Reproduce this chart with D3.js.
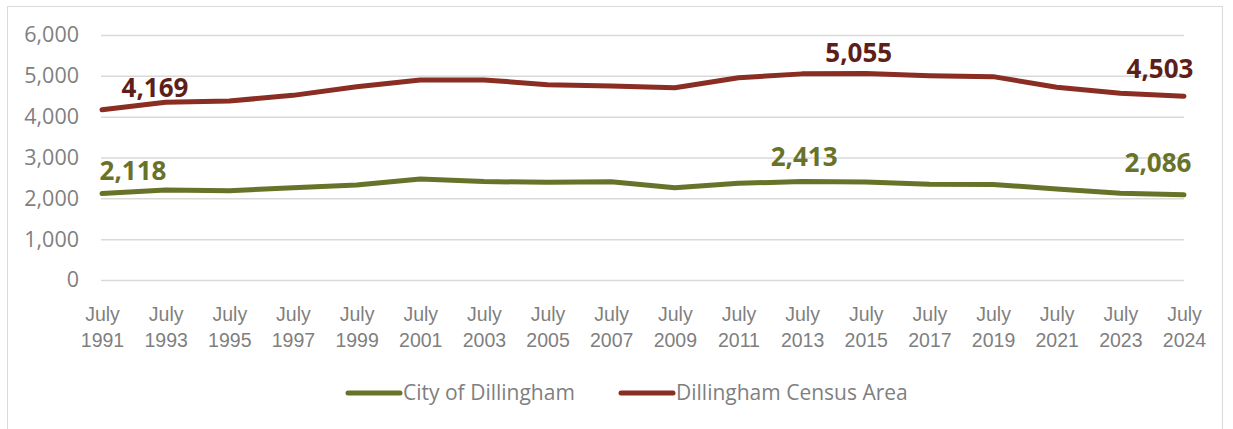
<!DOCTYPE html>
<html>
<head>
<meta charset="utf-8">
<script src="https://cdn.jsdelivr.net/npm/d3@7"></script>
<style>
  body { margin: 0; background: #fff; }
  svg { display: block; font-family: "Open Sans", sans-serif; }
</style>
</head>
<body>
<div class="chart"></div>
<script>
const years = ["1991", "1993", "1995", "1997", "1999", "2001", "2003", "2005", "2007",
    "2009", "2011", "2013", "2015", "2017", "2019", "2021", "2023", "2024"];
const cityValues = [2118, 2204, 2188, 2261, 2327, 2474, 2410, 2392, 2408,
    2261, 2367, 2413, 2400, 2345, 2340, 2230, 2122, 2086];
const areaValues = [4169, 4353, 4384, 4522, 4735, 4898, 4900, 4784, 4750,
    4710, 4955, 5048, 5055, 5005, 4980, 4720, 4572, 4503];
const yTicks = [0, 1000, 2000, 3000, 4000, 5000, 6000];
const seriesNames = ["City of Dillingham", "Dillingham Census Area"];
const cityLabelIdx = [0, 11, 17];
const areaLabelIdx = [0, 12, 17];

const W = 1233, H = 429;
const margin = ({ left: 102, right: 49, top: 35, bottom: 149 });

const svg = d3.select(".chart").append("svg")
    .attr("width", W)
    .attr("height", H)

svg.append("rect")
    .attr("x", 7.5).attr("y", 6.5)
    .attr("width", 1215).attr("height", 440)
    .attr("fill", "none")
    .attr("stroke", "#d9d9d9")

const x = d3.scalePoint()
    .domain(years)
    .range([margin.left, W - margin.right])

const y = d3.scaleLinear()
    .domain([0, 6000])
    .range([H - margin.bottom, margin.top])

// gridlines + y labels
const yAxis = d3.axisLeft(y)
    .tickValues(yTicks)
    .tickSize(-(W - margin.right - margin.left + 1))
    .tickPadding(22)
    .tickFormat(d3.format(","))

svg.append("g")
    .attr("transform", `translate(${margin.left - 1},0)`)
    .call(yAxis)
    .call(g => g.select(".domain").remove())
    .call(g => g.selectAll(".tick line").attr("stroke", "#d9d9d9").attr("stroke-width", 1.5))
    .call(g => g.selectAll(".tick text")
        .attr("fill", "#7f7f7f")
        .attr("font-size", 21.5)
        .attr("font-family", "Open Sans"))

// x labels, two lines each
const xAxis = d3.axisBottom(x).tickSize(0).tickFormat("");
const xg = svg.append("g")
    .attr("transform", `translate(0,${H - margin.bottom})`)
    .call(xAxis)
    .call(g => g.select(".domain").remove())

xg.selectAll(".tick").append("text")
    .attr("fill", "#7f7f7f")
    .attr("font-size", 19.5)
    .attr("text-anchor", "middle")
    .attr("y", 41)
    .text("July")
xg.selectAll(".tick").append("text")
    .attr("fill", "#7f7f7f")
    .attr("font-size", 19.5)
    .attr("text-anchor", "middle")
    .attr("y", 67)
    .text(d => d)

const line = d3.line()
    .x((d, i) => x(years[i]))
    .y(d => y(d));

const colors = ["#687229", "#8a2d22"];
const labelColors = ["#687229", "#5e1f19"];

[cityValues, areaValues].forEach((vals, k) => {
    svg.append("path")
        .datum(vals)
        .attr("fill", "none")
        .attr("stroke", colors[k])
        .attr("stroke-width", 5)
        .attr("stroke-linejoin", "round")
        .attr("stroke-linecap", "round")
        .attr("d", line);
});

// data labels, nudged like the original
const nudges = {
    "0-0": [31, -13.5], "0-11": [2, -15], "0-17": [-26, -23],
    "1-0": [53, -13], "1-12": [-7, -12], "1-17": [-24, -18]
};

[[cityValues, cityLabelIdx], [areaValues, areaLabelIdx]].forEach(([vals, idx], k) => {
    svg.append("g")
        .selectAll("text")
        .data(idx)
        .enter()
        .append("text")
        .attr("x", i => x(years[i]) + nudges[k + "-" + i][0])
        .attr("y", i => y(vals[i]) + nudges[k + "-" + i][1])
        .attr("text-anchor", "middle")
        .attr("font-size", 26)
        .attr("font-weight", 700)
        .attr("fill", labelColors[k])
        .text(i => d3.format(",")(vals[i]))
});

// legend
const legend = svg.append("g")
    .attr("transform", "translate(0,393)")

const legendX = [[348, 400, 403], [621, 673, 676]];
seriesNames.forEach((name, k) => {
    legend.append("line")
        .attr("x1", legendX[k][0]).attr("x2", legendX[k][1])
        .attr("stroke", colors[k])
        .attr("stroke-width", 5)
        .attr("stroke-linecap", "round")
    legend.append("text")
        .attr("x", legendX[k][2])
        .attr("dy", "0.35em")
        .attr("font-size", 21)
        .attr("fill", "#7f7f7f")
        .text(name)
});
</script>
</body>
</html>
